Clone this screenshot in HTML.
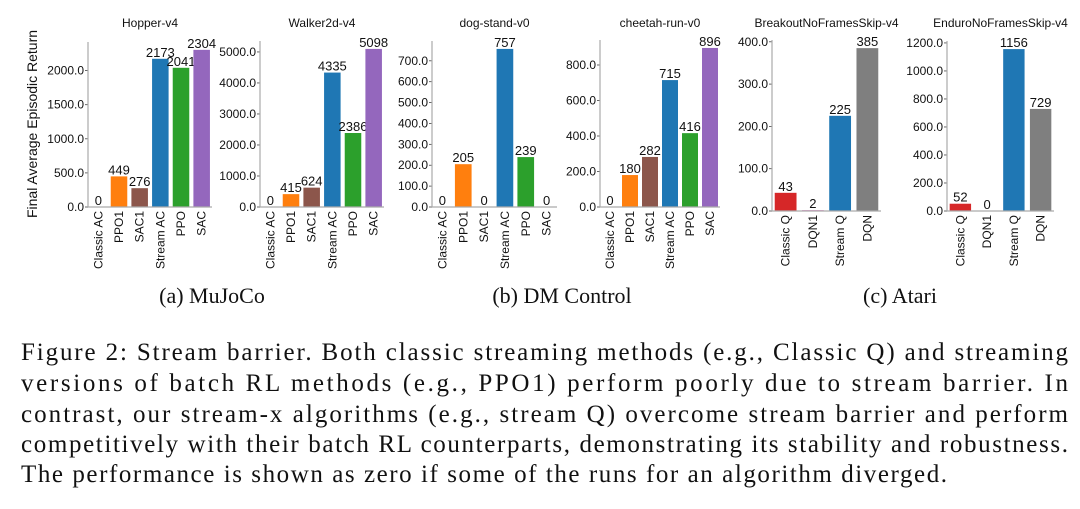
<!DOCTYPE html>
<html><head><meta charset="utf-8"><style>
html,body{margin:0;padding:0;background:#fff;width:1080px;height:509px;overflow:hidden}
svg{display:block}
.tick{font-family:"Liberation Sans",sans-serif;font-size:12px;fill:#111}
.ttl{font-family:"Liberation Sans",sans-serif;font-size:12px;fill:#111}
.val{font-family:"Liberation Sans",sans-serif;font-size:13px;fill:#111}
.cap{font-family:"Liberation Serif",serif;font-size:25px;fill:#111}
.sub{font-family:"Liberation Serif",serif;font-size:22px;fill:#111}
</style></head><body>
<svg id="fig" width="1080" height="509" xmlns="http://www.w3.org/2000/svg">
<text class="ttl" style="font-size:14px" transform="translate(37,124) rotate(-90)" text-anchor="middle">Final Average Episodic Return</text>
<text class="sub" x="212" y="303" text-anchor="middle">(a) MuJoCo</text>
<text class="sub" x="562" y="303" text-anchor="middle">(b) DM Control</text>
<text class="sub" x="900" y="303" text-anchor="middle">(c) Atari</text>
<text class="cap" x="21" y="360" textLength="1047" lengthAdjust="spacing">Figure 2: Stream barrier. Both classic streaming methods (e.g., Classic Q) and streaming</text>
<text class="cap" x="21" y="391" textLength="1047" lengthAdjust="spacing">versions of batch RL methods (e.g., PPO1) perform poorly due to stream barrier. In</text>
<text class="cap" x="21" y="422" textLength="1047" lengthAdjust="spacing">contrast, our stream-x algorithms (e.g., stream Q) overcome stream barrier and perform</text>
<text class="cap" x="21" y="452" textLength="1047" lengthAdjust="spacing">competitively with their batch RL counterparts, demonstrating its stability and robustness.</text>
<text class="cap" x="21" y="482" textLength="926" lengthAdjust="spacing">The performance is shown as zero if some of the runs for an algorithm diverged.</text>
</svg>
<script>
const acCats = ["Classic AC","PPO1","SAC1","Stream AC","PPO","SAC"];
const qCats = ["Classic Q","DQN1","Stream Q","DQN"];
const acColors = ["#d62728","#ff7f0e","#8c564b","#1f77b4","#2ca02c","#9467bd"];
const qColors = ["#d62728","#e377c2","#1f77b4","#7f7f7f"];
const hopperVals = [0,449,276,2173,2041,2304];
const walkerVals = [0,415,624,4335,2386,5098];
const dogVals = [0,205,0,757,239,0];
const cheetahVals = [0,180,282,715,416,896];
const breakoutVals = [43,2,225,385];
const enduroVals = [52,0,1156,729];
const hopperTicks = [0,500,1000,1500,2000];
const walkerTicks = [0,1000,2000,3000,4000,5000];
const dogTicks = [0,100,200,300,400,500,600,700];
const cheetahTicks = [0,200,400,600,800];
const breakoutTicks = [0,100,200,300,400];
const enduroTicks = [0,200,400,600,800,1000,1200];

const NS="http://www.w3.org/2000/svg";
const svg=document.getElementById('fig');
function mk(tag,attrs,parent){const e=document.createElementNS(NS,tag);for(const k in attrs)e.setAttribute(k,attrs[k]);(parent||svg).appendChild(e);return e;}

function chart(name,title,cats,vals,colors,ticks,x0,x1,base,top){
  const g=mk('g',{});
  
  
  const ymax=Math.max(...vals)*1.05;
  const ys=v=>base-(v/ymax)*(base-top);
  const n=cats.length, step=(x1-x0)/n;
  const xs=i=>x0+step*(i+0.5);
  const t=mk('text',{x:(x0+x1)/2,y:27,'text-anchor':'middle',class:'ttl'},g);
  t.textContent=title;
  
  
  vals.forEach((v,i)=>{
    const bw=step*0.8;
    const r=mk('rect',{x:xs(i)-bw/2,y:ys(v),width:bw,height:Math.max(base-ys(v),0),fill:colors[i]},g);
    
    
    const l=mk('text',{x:xs(i),y:ys(v)-2,'text-anchor':'middle',class:'val'},g);
    l.textContent=String(Math.round(v));
    
    
    const xl=mk('text',{transform:`translate(${xs(i)+4},${base+4}) rotate(-90)`,'text-anchor':'end',class:'tick'},g);
    xl.textContent=cats[i];
    
    
  });
  ticks.forEach(v=>{
    mk('line',{x1:x0-3,x2:x0,y1:ys(v),y2:ys(v),stroke:'#444','stroke-width':0.8},g);
    const tl=mk('text',{x:x0-4,y:ys(v)+4,'text-anchor':'end',class:'tick'},g);
    tl.textContent=v.toFixed(1);
    
    
  });
  mk('line',{x1:x0,x2:x0,y1:top,y2:base,stroke:'#aaa','stroke-width':1.2},g);
  mk('line',{x1:x0,x2:x1,y1:base,y2:base,stroke:'#aaa','stroke-width':1.2},g);
}
chart('hopper','Hopper-v4',acCats,hopperVals,acColors,hopperTicks,88,212,207,42);
chart('walker','Walker2d-v4',acCats,walkerVals,acColors,walkerTicks,260,384,207,41);
chart('dog','dog-stand-v0',acCats,dogVals,acColors,dogTicks,432,557,207,41);
chart('cheetah','cheetah-run-v0',acCats,cheetahVals,acColors,cheetahTicks,600,720,207,40);
chart('breakout','BreakoutNoFramesSkip-v4',qCats,breakoutVals,qColors,breakoutTicks,772,881,211,40);
chart('enduro','EnduroNoFramesSkip-v4',qCats,enduroVals,qColors,enduroTicks,947,1054,211,41);
</script>
</body></html>
